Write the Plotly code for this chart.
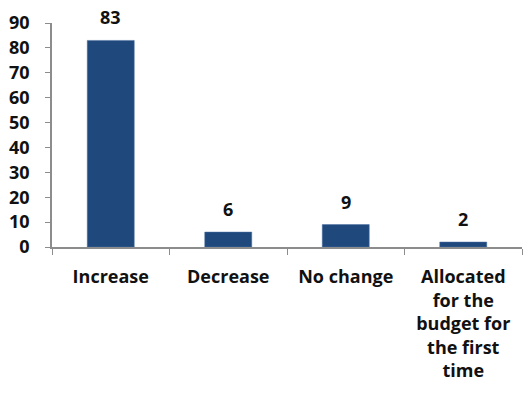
import plotly.graph_objects as go

categories = ["Increase", "Decrease", "No change",
              "Allocated<br>for the<br>budget for<br>the first<br>time"]
values = [83, 6, 9, 2]
y_ticks = [0, 10, 20, 30, 40, 50, 60, 70, 80, 90]

font_family = "'Open Sans', sans-serif"
txt_font = dict(family=font_family, size=18, color="#111111", weight="bold")

fig = go.Figure(go.Bar(
    x=categories, y=values,
    marker=dict(color="#1F497D", line=dict(color="#4A6FA0", width=0.5)),
    width=0.4,
))

for c, v in zip(categories, values):
    fig.add_annotation(x=c, y=v, text=str(v), showarrow=False,
                       yanchor="bottom", yshift=9, font=txt_font)

fig.update_layout(
    width=525, height=394,
    margin=dict(l=52, r=3, t=23, b=147),
    plot_bgcolor="white", paper_bgcolor="white",
    showlegend=False,
    font=txt_font,
)
fig.update_xaxes(
    showline=True, linecolor="#8C8C8C", linewidth=1.5,
    ticks="outside", tickson="boundaries", ticklen=6, tickcolor="#8C8C8C",
    tickfont=txt_font, ticklabelstandoff=13,
    showgrid=False,
)
fig.update_yaxes(
    range=[0, 90], tickvals=y_ticks,
    showline=True, linecolor="#8C8C8C", linewidth=1.5,
    ticks="outside", ticklen=5, tickcolor="#8C8C8C",
    tickfont=txt_font, ticklabelstandoff=12,
    showgrid=False, zeroline=False,
)

fig.write_html("out.html")
